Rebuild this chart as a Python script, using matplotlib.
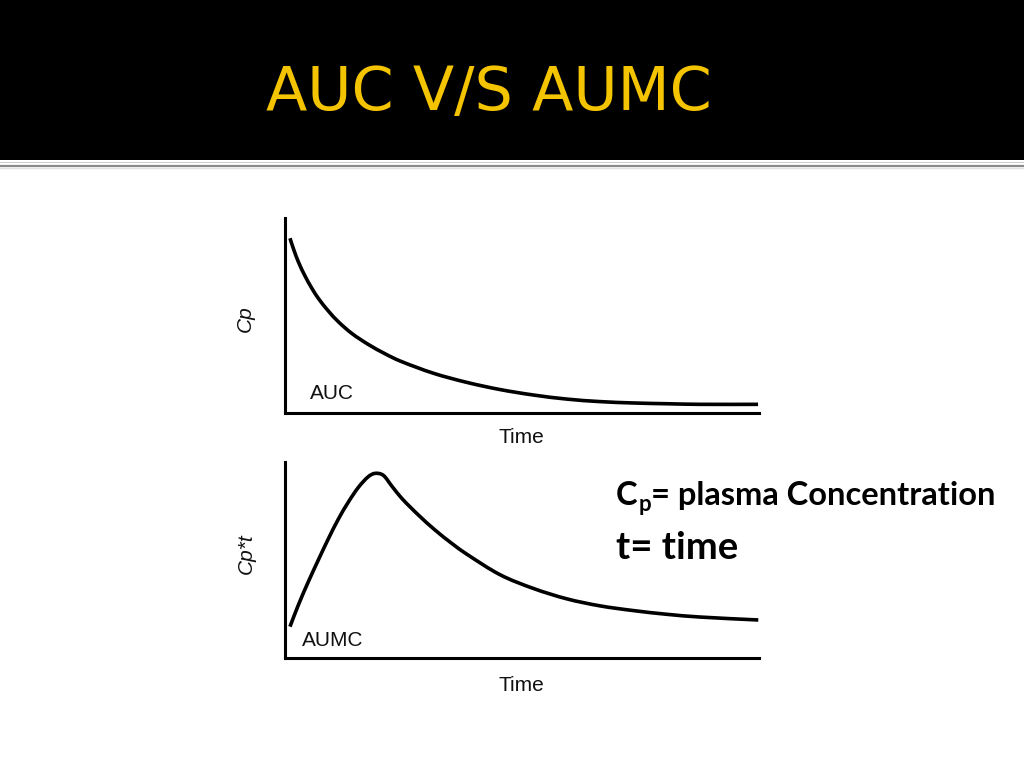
import matplotlib
matplotlib.use("Agg")
import matplotlib.pyplot as plt
from matplotlib.patches import Rectangle, PathPatch
from matplotlib.lines import Line2D
from matplotlib.path import Path

# ---------------- data ----------------
title = "AUC V/S AUMC"

time_auc = [0.105, 0.175, 0.281, 0.422, 0.563, 0.703, 0.914, 1.124, 1.407,
            1.757, 2.110, 2.426, 3.129, 3.833, 4.536, 5.238, 5.943, 6.646,
            7.348, 8.053, 8.755, 9.98]
cp_auc = [0.896, 0.844, 0.775, 0.702, 0.640, 0.587, 0.522, 0.467, 0.407,
          0.350, 0.302, 0.265, 0.202, 0.155, 0.118, 0.090, 0.069, 0.056,
          0.049, 0.045, 0.042, 0.042]

time_aumc = [0.105, 0.281, 0.492, 0.703, 0.914, 1.124, 1.335, 1.546, 1.757,
             1.899, 2.074, 2.251, 2.462, 2.812, 3.165, 3.517, 3.833, 4.536,
             5.238, 5.943, 6.646, 7.348, 8.053, 8.755, 9.985]
cpt_aumc = [0.160, 0.270, 0.389, 0.500, 0.608, 0.708, 0.795, 0.870, 0.925,
            0.942, 0.932, 0.878, 0.815, 0.730, 0.653, 0.585, 0.530, 0.425,
            0.355, 0.302, 0.266, 0.242, 0.223, 0.209, 0.194]

top_ylabel = "Cp"
bottom_ylabel = "Cp*t"
xlabel = "Time"
top_area_label = "AUC"
bottom_area_label = "AUMC"
legend_sub = ("C", "p", "= plasma Concentration")
legend_t = "t= time"

# ---------------- figure ----------------
W, H = 1024, 768
fig = plt.figure(figsize=(W / 100, H / 100), dpi=100)
fig.patch.set_facecolor("white")


def fx(px):
    return px / W


def fy(py):
    return 1 - py / H


# header band and separator
fig.patches.append(Rectangle((0, fy(160)), 1, 160 / H, transform=fig.transFigure,
                             facecolor="black", edgecolor="none", zorder=0))
fig.lines.append(Line2D([0, 1], [fy(161.5)] * 2, transform=fig.transFigure,
                        color="#cfcfcf", lw=0.8))
fig.lines.append(Line2D([0, 1], [fy(166)] * 2, transform=fig.transFigure,
                        color="#8a8a8a", lw=1.6))
fig.lines.append(Line2D([0, 1], [fy(168)] * 2, transform=fig.transFigure,
                        color="#e2e2e2", lw=1.0))

fig.text(fx(489), fy(110), title, ha="center", va="baseline", fontsize=43.5,
         color="#F5C400", family="DejaVu Sans")

label_font = dict(family="Liberation Sans", fontsize=15, color="#111111")


def style_axes(ax):
    ax.set_xlim(0, 10)
    ax.set_ylim(0, 1)
    for s in ("top", "right"):
        ax.spines[s].set_visible(False)
    for s in ("left", "bottom"):
        ax.spines[s].set_linewidth(2.2)
        ax.spines[s].set_color("black")
    ax.set_xticks([])
    ax.set_yticks([])
    ax.patch.set_alpha(0)


def smooth_curve(ax, xs, ys):
    """Draw a smooth cubic (Hermite, as Bezier segments) through the points."""
    n = len(xs)
    slopes = []
    for i in range(n):
        a = max(i - 1, 0)
        b = min(i + 1, n - 1)
        slopes.append((ys[b] - ys[a]) / (xs[b] - xs[a]))
    verts = [(xs[0], ys[0])]
    codes = [Path.MOVETO]
    for i in range(n - 1):
        h = xs[i + 1] - xs[i]
        c1 = (xs[i] + h / 3, ys[i] + slopes[i] * h / 3)
        c2 = (xs[i + 1] - h / 3, ys[i + 1] - slopes[i + 1] * h / 3)
        verts += [c1, c2, (xs[i + 1], ys[i + 1])]
        codes += [Path.CURVE4] * 3
    patch = PathPatch(Path(verts, codes), facecolor="none", edgecolor="black",
                      lw=2.6, capstyle="butt", joinstyle="round",
                      transform=ax.transData, clip_on=False)
    ax.add_patch(patch)


ax1 = fig.add_axes([fx(285), fy(412.5), 474 / W, 194.5 / H])
style_axes(ax1)
smooth_curve(ax1, time_auc, cp_auc)
ax1.text(-0.0844, 0.4845, top_ylabel, rotation=90, ha="center", va="center",
         style="italic", transform=ax1.transAxes, **label_font)
ax1.text(0.498, -0.129, xlabel, ha="center", va="center",
         transform=ax1.transAxes, **label_font)
ax1.text(0.099, 0.098, top_area_label, ha="center", va="center",
         transform=ax1.transAxes, **label_font)

ax2 = fig.add_axes([fx(285), fy(658), 474 / W, 196 / H])
style_axes(ax2)
smooth_curve(ax2, time_aumc, cpt_aumc)
ax2.text(-0.082, 0.533, bottom_ylabel, rotation=90, ha="center", va="center",
         style="italic", transform=ax2.transAxes, **label_font)
ax2.text(0.498, -0.14, xlabel, ha="center", va="center",
         transform=ax2.transAxes, **label_font)
ax2.text(0.101, 0.09, bottom_area_label, ha="center", va="center",
         transform=ax2.transAxes, **label_font)

# right-hand definitions
renderer = fig.canvas.get_renderer()
big = dict(family=["Lato", "DejaVu Sans"], weight="bold", color="black")
x0 = fx(616)
t1 = fig.text(x0, fy(505), legend_sub[0], ha="left", va="baseline",
              fontsize=23.5, **big)
bb = t1.get_window_extent(renderer)
t2 = fig.text(bb.x1 / W + 0.0005, fy(511), legend_sub[1], ha="left",
              va="baseline", fontsize=16, **big)
bb2 = t2.get_window_extent(renderer)
fig.text(bb2.x1 / W, fy(505), legend_sub[2], ha="left", va="baseline",
         fontsize=23.5, **big)
fig.text(x0, fy(559), legend_t, ha="left", va="baseline", fontsize=27.5, **big)

fig.savefig("out.png", dpi=100, facecolor="white")
